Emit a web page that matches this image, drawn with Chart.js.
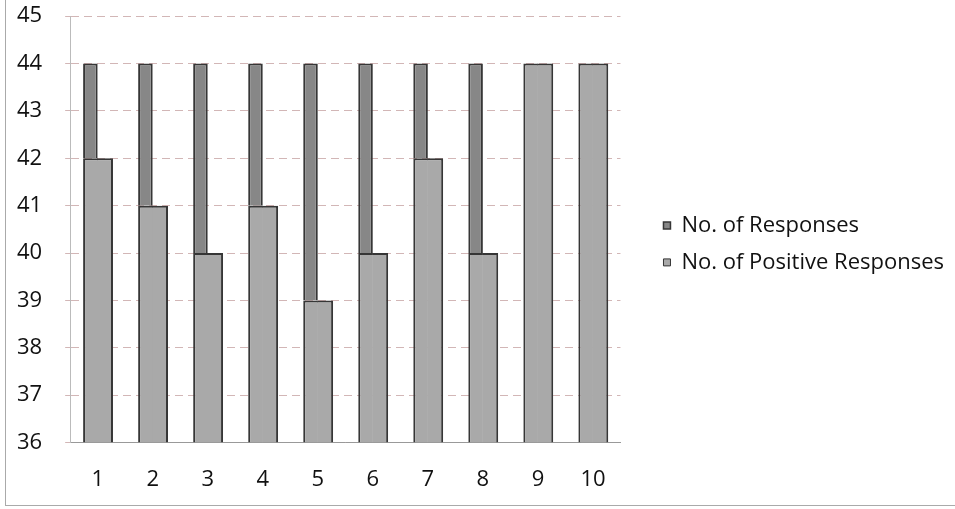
<!DOCTYPE html>
<html>
<head>
<meta charset="utf-8">
<script src="https://cdn.jsdelivr.net/npm/chart.js@4/dist/chart.umd.min.js"></script>
<style>
  html, body { margin: 0; padding: 0; background: #fff; }
  #wrap { position: relative; width: 955px; height: 509px; }
  #frame { position: absolute; left: 5px; top: 0; width: 950px; height: 505px;
           border-left: 1px solid #aaa; border-bottom: 1px solid #aaa; }
  canvas { position: absolute; left: 0; top: 0; }
</style>
</head>
<body>
<div id="wrap">
  <div id="frame"></div>
  <canvas id="chart" width="955" height="509"></canvas>
</div>
<script>
var labels = ["1", "2", "3", "4", "5", "6", "7", "8", "9", "10"];
var responses = [44, 44, 44, 44, 44, 44, 44, 44, 44, 44];
var positive = [42, 41, 40, 41, 39, 40, 42, 40, 44, 44];
var yMin = 36;
var yMax = 45;

// the positive bar overlaps the responses bar (Excel overlap),
// so split it into pieces the library can place in two slots
var topPart = positive.map(function (p, i) { return [p, responses[i]]; });
var lowPart = positive.map(function (p) { return [yMin, p]; });

var font = "'Open Sans', sans-serif";
var dark = '#878787';
var light = '#a9a9a9';
var edge = '#363636';

var ctx = document.getElementById('chart').getContext('2d');
var chart = new Chart(ctx, {
  type: 'bar',
  data: {
    labels: labels,
    datasets: [{
        label: 'No. of Responses',
        data: topPart,
        stack: 'L',
        backgroundColor: dark,
        borderColor: edge,
        borderWidth: { top: 2, left: 2, right: 2, bottom: 0 },
        borderSkipped: false
    },
    {
        label: 'No. of Positive Responses',
        data: lowPart,
        stack: 'L',
        backgroundColor: light,
        borderColor: edge,
        borderWidth: { top: 2, left: 2, right: 0, bottom: 0 },
        borderSkipped: false
    },
    {
        // right half of the positive bar, a bit wider so no seam shows
        label: 'right',
        data: lowPart,
        stack: 'R',
        backgroundColor: light,
        borderColor: edge,
        borderWidth: { top: 2, left: 0, right: 2, bottom: 0 },
        borderSkipped: false,
        barPercentage: 1.1
    }]
  },
  options: {
    responsive: false,
    animation: false,
    categoryPercentage: 0.53,
    barPercentage: 1.0,
    layout: { padding: { top: 0, left: 17, right: 1, bottom: 0 } },
    plugins: {
      tooltip: { enabled: false },
      legend: {
        position: 'right',
        align: 'start',
        maxWidth: 420,
        title: { display: true, text: '', font: { size: 12 }, padding: { top: 0, bottom: 185 } },
        labels: {
          font: { family: font, size: 22 },
          color: '#111',
          boxWidth: 7,
          boxHeight: 7,
          padding: 15,
          filter: function (item) { return item.text !== 'right'; }
        }
      }
    },
    scales: {
      x: {
        grid: { display: false },
        border: { display: true, color: '#999' },
        ticks: { font: { family: font, size: 22 }, color: '#111', padding: 16 }
      },
      y: {
        min: yMin,
        max: yMax,
        stacked: false,
        ticks: { stepSize: 1, font: { family: font, size: 22 }, color: '#111', padding: 3, crossAlign: 'far' },
        grid: { color: '#d2b6b6', tickLength: 5 },
        border: { display: true, color: '#bbb', dash: [8, 5] },
        afterFit: function (scale) { scale.width += 17; }
      },
      // empty spacer between the plot and the legend
      gap: {
        type: 'linear',
        position: 'right',
        display: true,
        grid: { display: false },
        border: { display: false },
        ticks: { display: false },
        afterFit: function (scale) { scale.width = 28; }
      }
    }
  }
});
</script>
</body>
</html>
